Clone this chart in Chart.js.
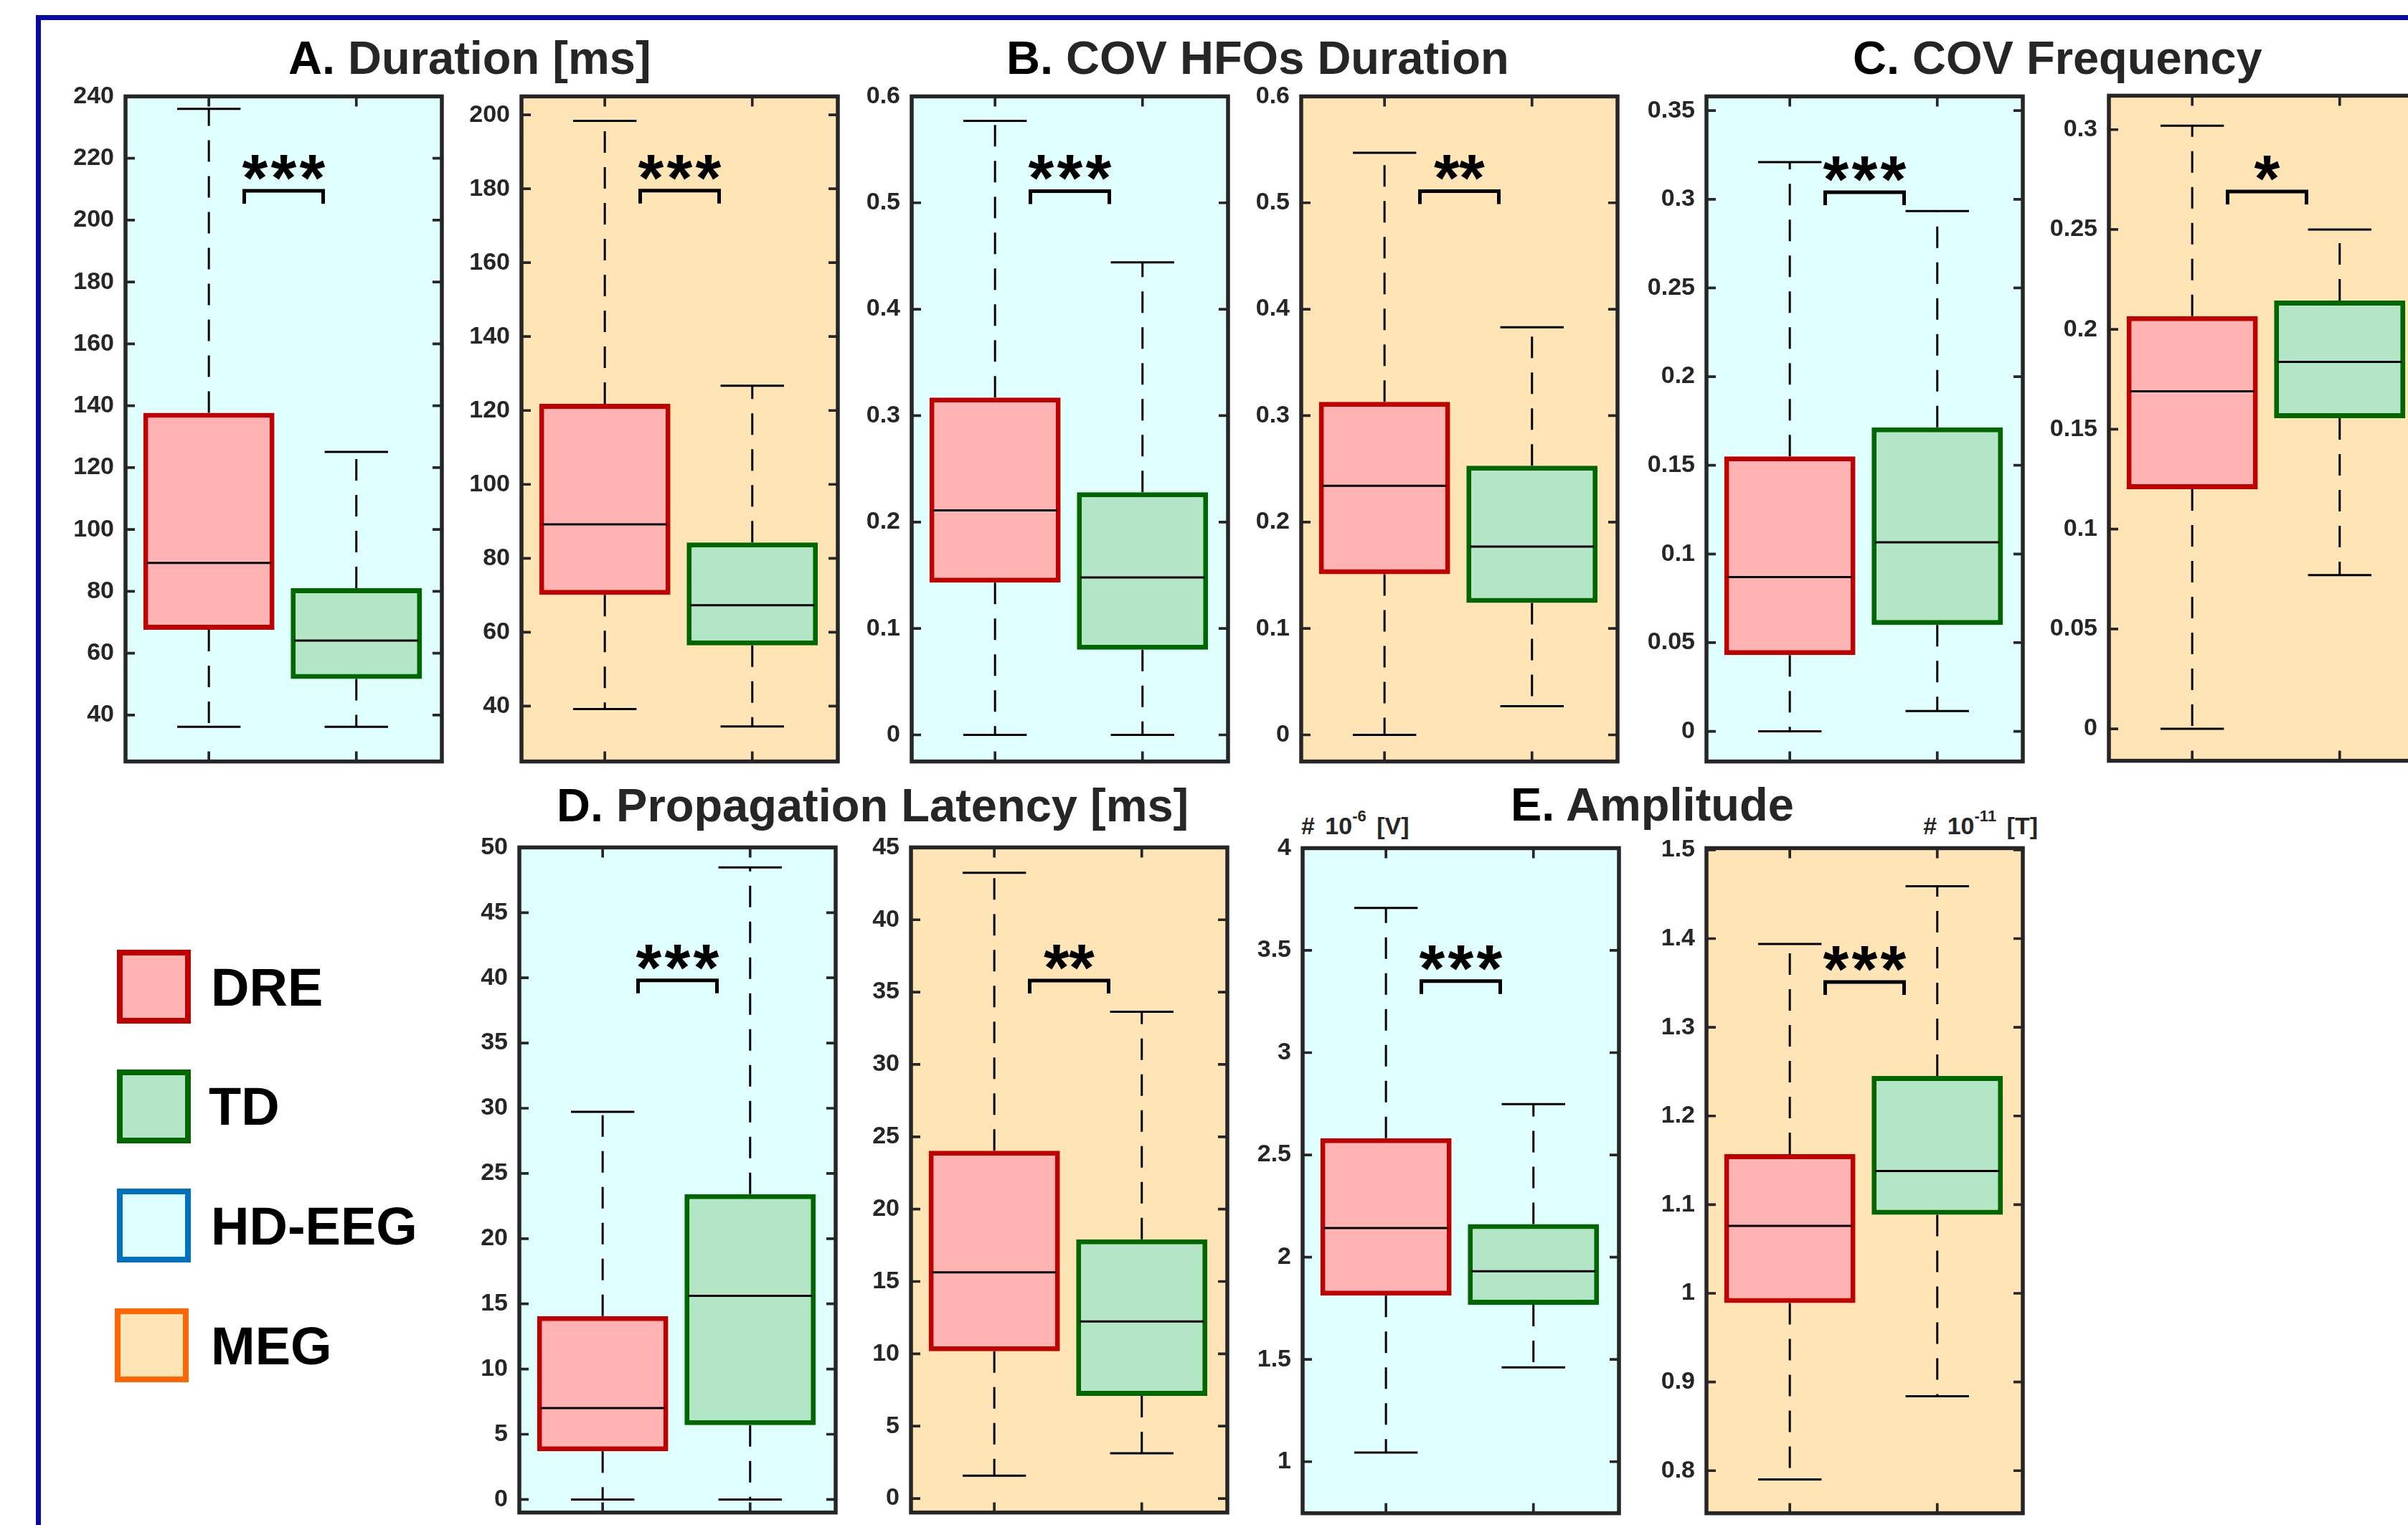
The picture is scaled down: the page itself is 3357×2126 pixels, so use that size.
<!DOCTYPE html>
<html>
<head>
<meta charset="utf-8">
<title>HFO features: DRE vs TD</title>
<script src="https://cdn.jsdelivr.net/npm/chart.js@4.4.0/dist/chart.umd.min.js"></script>
<style>
  html, body { margin: 0; padding: 0; }
  body { width: 3357px; height: 2126px; position: relative; overflow: hidden; background: #fff;
         font-family: 'Liberation Sans', Arial, sans-serif; }
  canvas { position: absolute; }
  .figframe { position: absolute; left: 50px; top: 21px; width: 4000px; height: 3000px;
              border-left: 7px solid #0a0aa0; border-top: 7px solid #0a0aa0; }
  .title { position: absolute; font-weight: bold; font-size: 65px; line-height: 65px; color: #262626; white-space: nowrap; }
  .title b { color: #000; }
  .unit { position: absolute; font-weight: bold; font-size: 34px; line-height: 34px; color: #262626; white-space: nowrap;
          word-spacing: 5px; }
  .unit sup { font-size: 22px; vertical-align: 18px; line-height: 0; }
  .key { position: absolute; width: 103px; height: 103px; box-sizing: border-box; border: 8px solid; }
  .keylabel { position: absolute; font-weight: bold; font-size: 74px; line-height: 74px; color: #000; white-space: nowrap; }
</style>
</head>
<body>
<div class="figframe"></div>

<div class="title" style="left:402px; top:48px;"><b>A.</b> Duration [ms]</div>
<div class="title" style="left:1403px; top:48px;"><b>B.</b> COV HFOs Duration</div>
<div class="title" style="left:2583px; top:48px;"><b>C.</b> COV Frequency</div>
<div class="title" style="left:776px; top:1090px;"><b>D.</b> Propagation Latency [ms]</div>
<div class="title" style="left:2106px; top:1089px;"><b>E.</b> Amplitude</div>

<div class="unit" style="left:1814px; top:1134px;"># 10<sup>-6</sup> [V]</div>
<div class="unit" style="right:516px; top:1134px; text-align:right;"># 10<sup>-11</sup> [T]</div>

<div class="key" style="left:163px; top:1324px; border-color:#bf0000; background:#ffb3b3;"></div>
<div class="keylabel" style="left:294px; top:1340px;">DRE</div>
<div class="key" style="left:163px; top:1491px; border-color:#006600; background:#b3e6c7;"></div>
<div class="keylabel" style="left:291px; top:1506px;">TD</div>
<div class="key" style="left:163px; top:1657px; border-color:#0072bd; background:#e0ffff;"></div>
<div class="keylabel" style="left:294px; top:1673px;">HD-EEG</div>
<div class="key" style="left:160px; top:1824px; border-color:#ff6600; background:#ffe4b5;"></div>
<div class="keylabel" style="left:294px; top:1840px;">MEG</div>

<script>
// groups on the x axis (DRE at x=1, TD at x=2)
const groups = ['DRE', 'TD'];

// five-number summaries per group: [lower whisker, Q1, median, Q3, upper whisker]
const durationEEG = [[36.2, 67.6, 89.2, 137.7, 236.0], [36.2, 51.7, 64.1, 81.0, 125.1]];
const durationMEG = [[39.2, 70.1, 89.2, 121.8, 198.4], [34.5, 56.4, 67.3, 84.3, 126.7]];
const covDurEEG   = [[0, 0.143, 0.211, 0.317, 0.577], [0, 0.080, 0.148, 0.228, 0.444]];
const covDurMEG   = [[0, 0.151, 0.234, 0.313, 0.547], [0.027, 0.124, 0.177, 0.253, 0.383]];
const covFreqEEG  = [[0, 0.043, 0.087, 0.155, 0.321], [0.0115, 0.060, 0.1066, 0.1714, 0.2934]];
const covFreqMEG  = [[0, 0.120, 0.169, 0.2066, 0.302], [0.077, 0.1555, 0.1837, 0.2144, 0.250]];
const latencyEEG  = [[0, 3.69, 7.01, 14.06, 29.72], [0, 5.70, 15.62, 23.42, 48.47]];
const latencyMEG  = [[1.58, 10.18, 15.63, 24.03, 43.25], [3.13, 7.09, 12.23, 17.91, 33.64]];
const ampEEG      = [[1.045, 1.812, 2.1425, 2.582, 3.708], [1.461, 1.767, 1.931, 2.162, 2.748]];
const ampMEG      = [[0.790, 0.989, 1.076, 1.157, 1.394], [0.884, 1.0886, 1.138, 1.245, 1.459]];

// y tick labels per panel
const durationEEGTicks = [40, 60, 80, 100, 120, 140, 160, 180, 200, 220, 240];
const durationMEGTicks = [40, 60, 80, 100, 120, 140, 160, 180, 200];
const covDurTicks      = [0, 0.1, 0.2, 0.3, 0.4, 0.5, 0.6];
const covFreqEEGTicks  = [0, 0.05, 0.1, 0.15, 0.2, 0.25, 0.3, 0.35];
const covFreqMEGTicks  = [0, 0.05, 0.1, 0.15, 0.2, 0.25, 0.3];
const latencyEEGTicks  = [0, 5, 10, 15, 20, 25, 30, 35, 40, 45, 50];
const latencyMEGTicks  = [0, 5, 10, 15, 20, 25, 30, 35, 40, 45];
const ampEEGTicks      = [1, 1.5, 2, 2.5, 3, 3.5, 4];
const ampMEGTicks      = [0.8, 0.9, 1, 1.1, 1.2, 1.3, 1.4, 1.5];

// significance marks between the two groups
const sigMarks = ['***', '***', '***', '**', '***', '*', '***', '**', '***', '***'];

const EEG_BG = '#e0ffff';
const MEG_BG = '#ffe4b5';
const BOX_FILL = ['#ffb3b3', '#b3e6c7'];
const BOX_EDGE = ['#bf0000', '#006600'];
const AXIS_COLOR = '#262626';

const FRAME_W = 441, FRAME_H = 940;
const AXIS_W = 130, PAD_T = 30, PAD_R = 20, PAD_B = 30;
const X_MIN = 0.435, X_MAX = 2.58;
const CAP = 0.215;                 // half width of whisker caps (x units)
const BR_LEFT = 1.24, BR_RIGHT = 1.775;

Chart.defaults.font.family = "'Liberation Sans', Arial, sans-serif";

const panels = [
  { stats: durationEEG, ticks: durationEEGTicks, min: 25, max: 240, bracket: 209.5, bg: EEG_BG, left: 175, top: 128 },
  { stats: durationMEG, ticks: durationMEGTicks, min: 25, max: 205, bracket: 179.5, bg: MEG_BG, left: 727, top: 128 },
  { stats: covDurEEG, ticks: covDurTicks, min: -0.025, max: 0.6, bracket: 0.511, bg: EEG_BG, left: 1271, top: 128 },
  { stats: covDurMEG, ticks: covDurTicks, min: -0.025, max: 0.6, bracket: 0.511, bg: MEG_BG, left: 1814, top: 128 },
  { stats: covFreqEEG, ticks: covFreqEEGTicks, min: -0.017, max: 0.358, bracket: 0.304, bg: EEG_BG, left: 2379, top: 128 },
  { stats: covFreqMEG, ticks: covFreqMEGTicks, min: -0.016, max: 0.317, bracket: 0.269, bg: MEG_BG, left: 2940, top: 127 },
  { stats: latencyEEG, ticks: latencyEEGTicks, min: -1, max: 50, bracket: 39.8, bg: EEG_BG, left: 724, top: 1175 },
  { stats: latencyMEG, ticks: latencyMEGTicks, min: -0.97, max: 45, bracket: 35.8, bg: MEG_BG, left: 1270, top: 1175 },
  { stats: ampEEG, ticks: ampEEGTicks, min: 0.748, max: 4, bracket: 3.35, bg: EEG_BG, left: 1816, top: 1176 },
  { stats: ampMEG, ticks: ampMEGTicks, min: 0.752, max: 1.502, bracket: 1.351, bg: MEG_BG, left: 2379, top: 1176 }
];

// whiskers, medians, frame, inward ticks and the significance bracket
function boxParts(p, sig) {
  return {
    id: 'boxParts',
    beforeDraw(chart) {
      const { ctx, chartArea: a } = chart;
      ctx.save();
      ctx.fillStyle = p.bg;
      ctx.fillRect(a.left, a.top, a.right - a.left, a.bottom - a.top);
      ctx.restore();
    },
    beforeDatasetsDraw(chart) {
      const { ctx, scales: { x, y } } = chart;
      ctx.save();
      ctx.strokeStyle = '#000';
      ctx.lineWidth = 3;
      p.stats.forEach((s, i) => {
        const cx = x.getPixelForValue(i + 1);
        ctx.setLineDash([30, 20]);
        ctx.beginPath();
        ctx.moveTo(cx, y.getPixelForValue(s[3]));
        ctx.lineTo(cx, y.getPixelForValue(s[4]));
        ctx.moveTo(cx, y.getPixelForValue(s[1]));
        ctx.lineTo(cx, y.getPixelForValue(s[0]));
        ctx.stroke();
        ctx.setLineDash([]);
        ctx.beginPath();
        [s[0], s[4]].forEach(v => {
          const py = y.getPixelForValue(v);
          ctx.moveTo(x.getPixelForValue(i + 1 - CAP), py);
          ctx.lineTo(x.getPixelForValue(i + 1 + CAP), py);
        });
        ctx.stroke();
      });
      ctx.restore();
    },
    afterDatasetsDraw(chart) {
      const { ctx, scales: { y } } = chart;
      const meta = chart.getDatasetMeta(0);
      ctx.save();
      ctx.strokeStyle = '#000';
      ctx.lineWidth = 3;
      meta.data.forEach((el, i) => {
        const py = y.getPixelForValue(p.stats[i][2]);
        const half = el.width / 2 - 5;
        ctx.beginPath();
        ctx.moveTo(el.x - half, py);
        ctx.lineTo(el.x + half, py);
        ctx.stroke();
      });
      ctx.restore();
    },
    afterDraw(chart) {
      const { ctx, chartArea: a, scales: { x, y } } = chart;
      ctx.save();
      // inward ticks
      ctx.strokeStyle = AXIS_COLOR;
      ctx.lineWidth = 3.7;
      ctx.beginPath();
      p.ticks.forEach(v => {
        const py = y.getPixelForValue(v);
        ctx.moveTo(a.left, py); ctx.lineTo(a.left + 13, py);
        ctx.moveTo(a.right, py); ctx.lineTo(a.right - 13, py);
      });
      groups.forEach((g, i) => {
        const px = x.getPixelForValue(i + 1);
        ctx.moveTo(px, a.bottom); ctx.lineTo(px, a.bottom - 14);
        ctx.moveTo(px, a.top); ctx.lineTo(px, a.top + 14);
      });
      ctx.stroke();
      // frame
      ctx.lineWidth = 5.5;
      ctx.strokeRect(a.left, a.top, a.right - a.left, a.bottom - a.top);
      // bracket
      const x1 = x.getPixelForValue(BR_LEFT), x2 = x.getPixelForValue(BR_RIGHT);
      const yb = y.getPixelForValue(p.bracket);
      ctx.strokeStyle = '#000';
      ctx.lineWidth = 5;
      ctx.lineJoin = 'miter';
      ctx.beginPath();
      ctx.moveTo(x1, yb + 18); ctx.lineTo(x1, yb); ctx.lineTo(x2, yb); ctx.lineTo(x2, yb + 18);
      ctx.stroke();
      // stars
      ctx.font = "bold 92px 'Liberation Sans', Arial, sans-serif";
      ctx.fillStyle = '#000';
      ctx.textAlign = 'center';
      ctx.textBaseline = 'alphabetic';
      const m = ctx.measureText('*');
      const base = yb - 15 - m.actualBoundingBoxDescent;
      const n = sig.length, pitch = n === 3 ? 40 : 35;
      const mid = (x1 + x2) / 2;
      for (let k = 0; k < n; k++) ctx.fillText('*', mid + (k - (n - 1) / 2) * pitch, base);
      ctx.restore();
    }
  };
}

panels.forEach((p, idx) => {
  const cv = document.createElement('canvas');
  cv.width = AXIS_W + FRAME_W + PAD_R;
  cv.height = PAD_T + FRAME_H + PAD_B;
  cv.style.left = (p.left - AXIS_W) + 'px';
  cv.style.top = (p.top - PAD_T) + 'px';
  document.body.appendChild(cv);

  new Chart(cv.getContext('2d'), {
    type: 'bar',
    data: {
      datasets: [{
        data: p.stats.map((s, i) => ({ x: i + 1, y: [s[1], s[3]] })),
        backgroundColor: BOX_FILL,
        borderColor: BOX_EDGE,
        borderWidth: 7,
        borderSkipped: false,
        barPercentage: 0.89,
        categoryPercentage: 1
      }]
    },
    options: {
      responsive: false,
      animation: false,
      devicePixelRatio: 1,
      events: [],
      layout: { padding: { left: 0, top: PAD_T, right: PAD_R, bottom: PAD_B } },
      plugins: { legend: { display: false }, tooltip: { enabled: false } },
      scales: {
        x: {
          type: 'linear', display: false, offset: false, min: X_MIN, max: X_MAX,
          afterBuildTicks: s => { s.ticks = groups.map((g, i) => ({ value: i + 1 })); }
        },
        y: {
          type: 'linear', min: p.min, max: p.max,
          grid: { display: false, drawTicks: false },
          border: { display: false },
          afterBuildTicks: s => { s.ticks = p.ticks.map(v => ({ value: v })); },
          afterFit: s => { s.width = AXIS_W; },
          ticks: {
            autoSkip: false,
            padding: 16,
            color: AXIS_COLOR,
            font: { size: 34, weight: 'bold' },
            callback: v => String(v)
          }
        }
      }
    },
    plugins: [boxParts(p, sigMarks[idx])]
  });
});
</script>
</body>
</html>
